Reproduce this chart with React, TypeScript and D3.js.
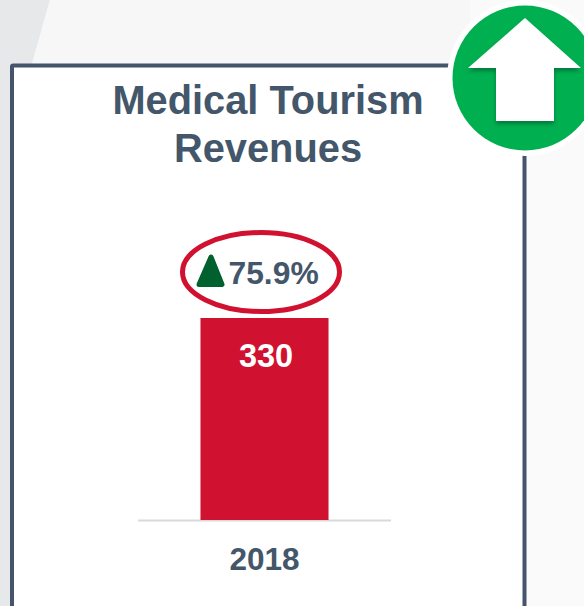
import React from "react";
import * as d3 from "d3";

const categories = ["2018"];
const seriesValues = [330];
const valueLabels = ["330"];
const titleLines = ["Medical Tourism", "Revenues"];
const changeLabel = "75.9%";

const W = 584;
const H = 606;
const FONT = "'Liberation Sans', Arial, sans-serif";
const SLATE = "#44546a";
const TEXT = "#43566a";
const RED = "#d0112f";

export default function App() {
  const x = d3.scaleBand().domain(categories).range([138, 391]).paddingInner(0).paddingOuter(0.488);
  const y = d3.scaleLinear().domain([0, 330]).range([520, 318]);
  const arrow = d3.line()([
    [525, 18],
    [581, 68],
    [554, 68],
    [554, 121],
    [496, 121],
    [496, 68],
    [468, 68],
  ]) + "Z";
  return (
    <svg
      width={W}
      height={H}
      viewBox={`0 0 ${W} ${H}`}
      style={{ position: "fixed", left: 0, top: 0, display: "block" }}
      fontFamily={FONT}
    >
      <defs>
        <filter id="arrowShadow" x="-20%" y="-20%" width="140%" height="140%">
          <feDropShadow dx="0" dy="3" stdDeviation="2.2" floodColor="#00572a" floodOpacity="0.6" />
        </filter>
      </defs>
      <rect width={W} height={H} fill="#fafafa" />
      <path d="M0 0H50L32 64H10V606H0Z" fill="#e7e8ea" />
      <path d="M50 0H470V64H32Z" fill="#f7f7f8" />
      <rect x={12} y={65.5} width={512.5} height={560} fill="#ffffff" stroke={SLATE} strokeWidth={4} rx={1} />

      {titleLines.map((t, i) => (
        <text key={t} x={268} y={114 + i * 48} textAnchor="middle" fontSize={39.8} fontWeight={700} fill={TEXT}>
          {t}
        </text>
      ))}

      <line x1={138} x2={391} y1={520.5} y2={520.5} stroke="#d9d9d9" strokeWidth={2} />
      {categories.map((c, i) => (
        <g key={c}>
          <rect
            x={x(c)!}
            y={y(seriesValues[i])}
            width={x.bandwidth()}
            height={y(0) - y(seriesValues[i])}
            fill={RED}
          />
          <text x={266} y={367} textAnchor="middle" fontSize={32.5} fontWeight={700} fill="#ffffff">
            {valueLabels[i]}
          </text>
          <text x={264.5} y={569.5} textAnchor="middle" fontSize={31.5} fontWeight={700} fill={TEXT}>
            {c}
          </text>
        </g>
      ))}

      <ellipse cx={261} cy={272} rx={78.5} ry={39.5} fill="#ffffff" stroke={RED} strokeWidth={5} />
      <path d="M211 257L222 284.5H199Z" fill="#00612e" stroke="#00612e" strokeWidth={5} strokeLinejoin="round" />
      <text x={228.5} y={283.5} fontSize={31.8} fontWeight={700} fill={TEXT}>
        {changeLabel}
      </text>

      <circle cx={525} cy={78} r={78} fill="#ffffff" />
      <circle cx={525} cy={78} r={72.5} fill="#00b050" />
      <path d={arrow} fill="#ffffff" filter="url(#arrowShadow)" />
    </svg>
  );
}
